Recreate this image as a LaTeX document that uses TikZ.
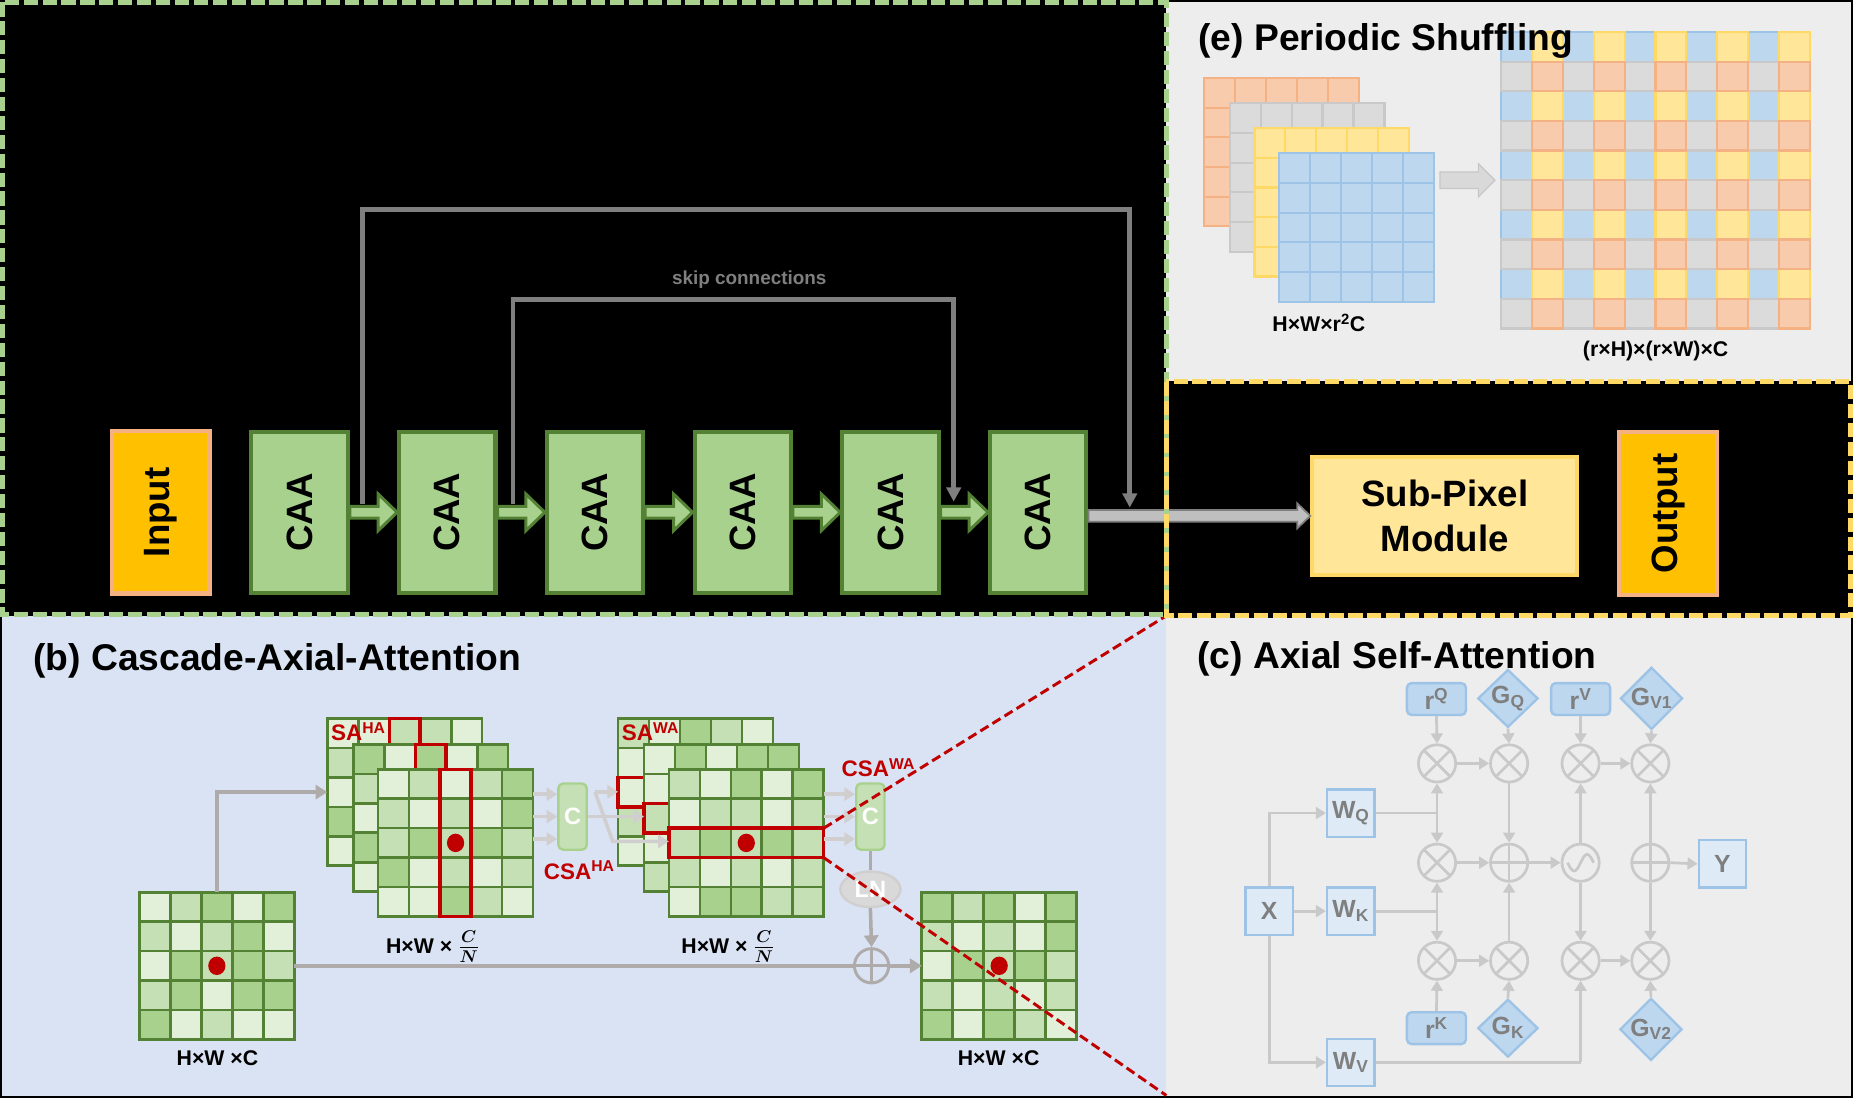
\documentclass[tikz,border=0pt]{standalone}
\usepackage{fontspec}
\setmainfont{Liberation Sans}
\usetikzlibrary{arrows.meta,positioning,calc,shapes.geometric}

\definecolor{caafill}{HTML}{A9D18E}
\definecolor{caaline}{HTML}{548235}
\definecolor{gL}{HTML}{E2F0D9}
\definecolor{gM}{HTML}{C5E0B4}
\definecolor{gD}{HTML}{A9D18E}
\definecolor{ioorange}{HTML}{FFC000}
\definecolor{iosalmon}{HTML}{F4B183}
\definecolor{spfill}{HTML}{FFE699}
\definecolor{spline}{HTML}{FFD966}
\definecolor{panelblue}{HTML}{DAE3F3}
\definecolor{panelgray}{HTML}{EDEDED}
\definecolor{darkred}{HTML}{C00000}
\definecolor{skipgray}{HTML}{7F7F7F}
\definecolor{flowgray}{HTML}{AFABAB}
\definecolor{faintgray}{HTML}{D0CECE}
\definecolor{attgray}{HTML}{C9C9C9}
\definecolor{boxblue}{HTML}{DEEBF7}
\definecolor{midblue}{HTML}{BDD7EE}
\definecolor{lineblue}{HTML}{9DC3E6}
\definecolor{shOrange}{HTML}{F8CBAD}
\definecolor{shOrangeL}{HTML}{F4B183}
\definecolor{shGray}{HTML}{DBDBDB}
\definecolor{shGrayL}{HTML}{C9C9C9}
\definecolor{shYellow}{HTML}{FFE699}
\definecolor{shYellowL}{HTML}{FFD966}
\definecolor{shBlue}{HTML}{BDD7EE}
\definecolor{shBlueL}{HTML}{9DC3E6}

% block arrow: style, from, to, shaft half height, head half height, head length
\newcommand{\fatarrow}[6]{%
  \coordinate (fastart) at (#2 |- #3);
  \coordinate (faend) at (#3);
  \draw[#1] ($(fastart)+(0,-#4)$) -- ($(faend)+(-#6,-#4)$) -- ($(faend)+(-#6,-#5)$) -- (faend)
    -- ($(faend)+(-#6,#5)$) -- ($(faend)+(-#6,#4)$) -- ($(fastart)+(0,#4)$) -- cycle;}

% 5x5 green feature map: name, x, y, rows of L/M/D
\newcommand{\greengrid}[4]{%
  \node[gridframe, anchor=north west] (#1) at (#2,#3) {};
  \foreach \row [count=\j] in {#4} {
    \foreach \cl [count=\i] in \row {
      \filldraw[gridcell, fill=g\cl] ({#2+(\i-1)*26.2},{#3+(\j-1)*24.9}) rectangle ++(26.2,24.9);
    }
  }}

% 5x5 single colour map: name, x, y, fill, draw
\newcommand{\colorgrid}[5]{%
  \node[gridframe, minimum height=125.5, anchor=north west] (#1) at (#2,#3) {};
  \foreach \i in {0,...,4} {\foreach \j in {0,...,4} {
    \filldraw[fill=#4, draw=#5, line width=1.8] ({#2+\i*26.2},{#3+\j*25.1}) rectangle ++(26.2,25.1);}}}

\newcommand{\chanfrac}{{\fontsize{22}{26}\selectfont\boldmath$\frac{C}{N}$}}

\begin{document}
\begin{tikzpicture}[x=1pt, y=-1pt,
    caabox/.style={draw=caaline, fill=caafill, line width=3.5, minimum width=81.5, minimum height=136.5, inner sep=0, font=\fontsize{31}{37}\selectfont\bfseries},
    iobox/.style={draw=iosalmon, fill=ioorange, line width=3.5, minimum width=82.5, minimum height=137.5, inner sep=0, font=\fontsize{31}{37}\selectfont\bfseries},
    subbox/.style={draw=spline, fill=spfill, line width=3.5, minimum width=224, minimum height=100, align=center, font=\fontsize{31}{38}\selectfont\bfseries},
    greenarrow/.style={draw=caaline, fill=caafill, line width=2.5},
    grayarrow/.style={draw=skipgray, fill=black!25, line width=1.5},
    lightarrow/.style={draw=black!22, fill=black!15, line width=1},
    skipline/.style={draw=skipgray, line width=4, -{Triangle[length=12pt,width=12pt]}},
    greendash/.style={draw=caafill, line width=4, dash pattern=on 12pt off 4pt},
    yellowdash/.style={draw=spline, line width=4, dash pattern=on 12pt off 4pt},
    title/.style={inner sep=0, anchor=base west, font=\fontsize{31.5}{36}\selectfont\bfseries},
    gridframe/.style={draw=none, inner sep=0, outer sep=0, minimum width=131, minimum height=124.5},
    gridcell/.style={draw=caaline, line width=2.2},
    redline/.style={draw=darkred, line width=3},
    salabel/.style={text=darkred, inner sep=0, anchor=base west, font=\fontsize{19}{22}\selectfont\bfseries},
    cbox/.style={draw=caafill, fill=gM, line width=2, rounded corners=4, minimum width=24, minimum height=56, inner sep=0, text=white, font=\fontsize{20}{24}\selectfont\bfseries},
    lnnode/.style={ellipse, draw=faintgray, fill=black!15, line width=2, minimum width=51, minimum height=30, inner sep=0, text=white, font=\fontsize{20}{24}\selectfont\bfseries},
    sumnode/.style={circle, draw=flowgray, line width=2.5, minimum size=29, inner sep=0,
      path picture={\draw[flowgray, line width=2.5] (path picture bounding box.north) -- (path picture bounding box.south) (path picture bounding box.west) -- (path picture bounding box.east);}},
    flowline/.style={draw=flowgray, line width=3},
    flowarrow/.style={flowline, -{Triangle[length=10pt,width=12pt]}},
    faintarrow/.style={draw=faintgray, line width=3, -{Triangle[length=9pt,width=11pt]}},
    dimlabel/.style={inner sep=0, font=\fontsize{18}{21}\selectfont\bfseries},
    zoomline/.style={draw=darkred, line width=2.5, dash pattern=on 8pt off 4pt},
    wbox/.style={draw=lineblue, fill=boxblue, line width=2, minimum size=40, inner sep=0, text=skipgray, font=\fontsize{21}{24}\selectfont\bfseries},
    rbox/.style={draw=lineblue, fill=midblue, line width=2, rounded corners=4, minimum width=50, minimum height=27, inner sep=0, text=skipgray, font=\fontsize{21}{24}\selectfont\bfseries},
    gdiamond/.style={diamond, draw=lineblue, fill=midblue, line width=2, minimum width=51, minimum height=49, inner sep=0, text=skipgray, font=\fontsize{21}{24}\selectfont\bfseries},
    opcircle/.style={circle, draw=attgray, line width=2.3, minimum size=31.5, inner sep=0},
    timesnode/.style={opcircle, path picture={\draw[attgray, line width=2.3] (path picture bounding box.north west) -- (path picture bounding box.south east) (path picture bounding box.north east) -- (path picture bounding box.south west);}},
    plusnode/.style={opcircle, path picture={\draw[attgray, line width=2.3] (path picture bounding box.north) -- (path picture bounding box.south) (path picture bounding box.west) -- (path picture bounding box.east);}},
    wavenode/.style={opcircle, path picture={\draw[attgray, line width=2.3, shift={(path picture bounding box.center)}] plot[domain=-11:11, samples=40, smooth] (\x, {-7*sin(\x*180/11)});}},
    attline/.style={draw=attgray, line width=2.3},
    attarrow/.style={attline, -{Triangle[length=8.5pt,width=10pt]}}
]
\useasboundingbox (0,0) rectangle (1568,929);

% panel backgrounds
\fill[panelblue] (0,521) rectangle (987,929);
\fill[panelgray] (987,521) rectangle (1568,929);
\fill[panelgray] (987,0) rectangle (1568,322);
\draw[black, line width=3] (0,0) rectangle (1568,929);
\fill[black] (0,0) rectangle (987,521);
\fill[black] (987,322) rectangle (1568,523);

% (a) backbone
\node[iobox] (input) at (136,433.5) {\rotatebox{90}{Input}};
\node[caabox, right=32pt of input] (caa1) {\rotatebox{90}{CAA}};
\node[caabox, right=40pt of caa1] (caa2) {\rotatebox{90}{CAA}};
\node[caabox, right=40pt of caa2] (caa3) {\rotatebox{90}{CAA}};
\node[caabox, right=40pt of caa3] (caa4) {\rotatebox{90}{CAA}};
\node[caabox, right=40pt of caa4] (caa5) {\rotatebox{90}{CAA}};
\node[caabox, right=40pt of caa5] (caa6) {\rotatebox{90}{CAA}};
\node[subbox] (subpix) at (1222.5,436.5) {Sub-Pixel\\Module};
\node[iobox] (output) at (1411.5,434.5) {\rotatebox{90}{Output}};

\fatarrow{greenarrow}{caa1.east}{caa2.west}{5}{15.5}{16}
\fatarrow{greenarrow}{caa2.east}{caa3.west}{5}{15.5}{16}
\fatarrow{greenarrow}{caa3.east}{caa4.west}{5}{15.5}{16}
\fatarrow{greenarrow}{caa4.east}{caa5.west}{5}{15.5}{16}
\fatarrow{greenarrow}{caa5.east}{caa6.west}{5}{15.5}{16}
\fatarrow{grayarrow}{caa6.east}{subpix.west}{5}{10.5}{11}

% skip connections
\coordinate (outerA) at ($(caa1.east)+(11,-7)$);
\coordinate (outerB) at ($(caa6.east)+(35,-4)$);
\coordinate (innerA) at ($(caa2.east)+(13,-7)$);
\coordinate (innerB) at ($(caa5.east)+(11,-9)$);
\draw[skipline] (outerA) -- ++(0,-249) -| (outerB);
\draw[skipline] (innerA) -- ++(0,-173) -| (innerB);
\node[text=skipgray, font=\fontsize{16}{19}\selectfont\bfseries] (skiptext) at (634,237) {skip connections};

% (e) Periodic Shuffling
\node[gridframe, minimum width=261.7, minimum height=251, anchor=north west] (shuffled) at (1270,27) {};
\foreach \j in {0,2,...,8} {
  \foreach \i in {0,2,...,8}
    \filldraw[fill=shBlue, draw=shBlueL, line width=1.8] ({1270+\i*26.17},{27+\j*25.1}) rectangle ++(26.17,25.1);
  \foreach \i in {1,3,...,9}
    \filldraw[fill=shYellow, draw=shYellowL, line width=1.8] ({1270+\i*26.17},{27+\j*25.1}) rectangle ++(26.17,25.1);
}
\foreach \j in {1,3,...,9} {
  \foreach \i in {0,2,...,8}
    \filldraw[fill=shGray, draw=shGrayL, line width=1.8] ({1270+\i*26.17},{27+\j*25.1}) rectangle ++(26.17,25.1);
  \foreach \i in {1,3,...,9}
    \filldraw[fill=shOrange, draw=shOrangeL, line width=1.8] ({1270+\i*26.17},{27+\j*25.1}) rectangle ++(26.17,25.1);
}
\colorgrid{stackO}{1019}{66}{shOrange}{shOrangeL}
\colorgrid{stackG}{1040.5}{87.5}{shGray}{shGrayL}
\colorgrid{stackY}{1061.5}{108.5}{shYellow}{shYellowL}
\colorgrid{stackB}{1082.5}{129.7}{shBlue}{shBlueL}
\coordinate (shufA) at ($(stackB.east)+(5,0)$);
\coordinate (shufB) at ($(shuffled.west)+(-5,0)$);
\fatarrow{lightarrow}{shufA}{shufB}{7}{14}{14}
\node[title] (etitle) at (1014,43) {(e) Periodic Shuffling};
\node[dimlabel] (stacklabel) at (1116,273) {H×W×r\textsuperscript{2}C};
\node[dimlabel] (shuflabel) at (1401,297) {(r×H)×(r×W)×C};

% (b) Cascade-Axial-Attention
\node[title] (btitle) at (28,567) {(b) Cascade-Axial-Attention};

\greengrid{ingrid}{118}{755}{{L,M,D,L,D},{M,L,M,D,L},{L,D,M,D,M},{M,D,L,D,D},{D,L,M,L,L}}
\fill[darkred] (ingrid.center) ellipse [x radius=7.3, y radius=7.8];

\greengrid{haback}{277}{608}{{L,L,M,M,L},{M,L,L,M,L},{L,M,L,L,M},{D,L,M,L,L},{L,M,L,D,L}}
\draw[redline] ($(haback.north west)+(52.4,0)$) rectangle ++(26.2,124.5);
\node[salabel] (sahalabel) at (280,627) {SA\textsuperscript{HA}};
\greengrid{hamid}{299}{630}{{D,L,D,L,D},{M,L,L,M,L},{L,M,L,L,M},{D,L,M,L,L},{L,M,L,D,L}}
\draw[redline] ($(hamid.north west)+(52.4,0)$) rectangle ++(26.2,124.5);
\greengrid{hafront}{320}{651}{{L,M,L,M,D},{M,L,M,L,D},{M,D,M,D,M},{D,L,M,L,M},{L,L,D,M,L}}
\draw[redline] ($(hafront.north west)+(52.4,0)$) rectangle ++(26.2,124.5);
\fill[darkred] (hafront.center) ellipse [x radius=7.3, y radius=7.8];

\node[cbox] (cha) at (484.5,691) {C};
\foreach \dy in {-19,0,19}
  \draw[faintarrow] ($(hafront.east |- cha.west)+(0,\dy)$) -- ($(cha.west)+(0,\dy)$);
\node[salabel] (csahalabel) at (460,744) {CSA\textsuperscript{HA}};

\greengrid{waback}{523}{608}{{M,L,D,M,L},{L,M,L,L,M},{L,L,M,L,L},{M,L,L,M,L},{L,M,L,L,M}}
\draw[redline] ($(waback.north west)+(0,49.8)$) rectangle ++(131,24.9);
\node[salabel] (sawalabel) at (526,627) {SA\textsuperscript{WA}};
\greengrid{wamid}{545}{630}{{L,D,L,D,D},{L,M,L,L,M},{M,L,M,L,L},{L,M,L,M,L},{M,L,L,M,L}}
\draw[redline] ($(wamid.north west)+(0,49.8)$) rectangle ++(131,24.9);
\greengrid{wafront}{566}{651}{{M,L,D,L,D},{L,M,M,L,M},{M,D,M,D,M},{M,L,M,L,M},{L,D,D,M,M}}
\draw[redline] ($(wafront.north west)+(0,49.8)$) rectangle ++(131,24.9);
\fill[darkred] (wafront.center) ellipse [x radius=7.3, y radius=7.8];

% crossing links between the two stages
\coordinate (crossA) at ($(cha.east)+(6,-21)$);
\coordinate (crossB) at ($(crossA)+(15,42)$);
\draw[faintarrow] (cha.east) -- (wamid.west |- cha.east);
\draw[faintarrow] (crossA) -- (waback.west |- crossA);
\draw[faintarrow] (crossA) -- (crossB) -- (wafront.west |- crossB);

\node[cbox] (cwa) at (736.5,691) {C};
\foreach \dy in {-19,0,19}
  \draw[faintarrow] ($(wafront.east |- cwa.west)+(0,\dy)$) -- ($(cwa.west)+(0,\dy)$);
\node[salabel] (csawalabel) at (712,657) {CSA\textsuperscript{WA}};

\node[lnnode] (ln) at (736.5,752.5) {LN};
\node[sumnode] (sum) at (737.5,817.25) {};
\greengrid{outgrid}{780}{755}{{D,M,D,L,D},{M,L,M,L,D},{L,D,M,D,M},{M,L,M,L,M},{D,L,D,M,L}}
\fill[darkred] (outgrid.center) ellipse [x radius=7.3, y radius=7.8];

\draw[flowarrow] (ingrid.north) |- (haback.west);
\draw[flowline] (ingrid.east) -- (sum.west);
\draw[flowline] (cwa.south) -- (ln.north);
\draw[flowarrow] (ln.south) -- (sum.north);
\draw[flowarrow] (sum.east) -- (outgrid.west);

\node[dimlabel] (inlabel) at (184,895) {H×W ×C};
\node[dimlabel] (outlabel) at (845,895) {H×W ×C};
\node[dimlabel] (halabel) at (366,801) {H×W × \chanfrac};
\node[dimlabel] (walabel) at (616,801) {H×W × \chanfrac};

% zoom lines towards (c)
\coordinate (zoomA) at ($(wafront.north east)+(0,49.8)$);
\coordinate (zoomB) at ($(wafront.north east)+(0,74.7)$);
\coordinate (cornerTop) at (987,521);
\coordinate (cornerBot) at (987,927);
\draw[zoomline] (zoomA) -- (cornerTop);
\draw[zoomline] (zoomB) -- (cornerBot);

% (c) Axial Self-Attention
\node[title] (ctitle) at (1013,566) {(c) Axial Self-Attention};
\node[wbox] (X) at (1074,771) {X};
\node[wbox] (WQ) at (1143,688) {W\textsubscript{Q}};
\node[wbox] (WK) at (1143,771) {W\textsubscript{K}};
\node[wbox] (WV) at (1143,899) {W\textsubscript{V}};
\node[wbox] (Y) at (1457.5,731) {Y};
\node[rbox] (rQ) at (1215.5,591.5) {r\textsuperscript{Q}};
\node[rbox] (rV) at (1337.5,591.5) {r\textsuperscript{V}};
\node[rbox] (rK) at (1215.5,870) {r\textsuperscript{K}};
\node[gdiamond] (GQ) at (1276,591) {G\textsubscript{Q}};
\node[gdiamond] (GV1) at (1397.5,591) {G\textsubscript{V1}};
\node[gdiamond] (GK) at (1276,870) {G\textsubscript{K}};
\node[gdiamond] (GV2) at (1397,871) {G\textsubscript{V2}};

\node[timesnode] (t11) at (1216,646) {};
\node[timesnode] (t12) at (1277,646) {};
\node[timesnode] (t13) at (1337.5,646) {};
\node[timesnode] (t14) at (1396.5,646) {};
\node[timesnode] (t21) at (1216,730) {};
\node[plusnode] (p22) at (1277,730) {};
\node[wavenode] (w23) at (1337.5,730) {};
\node[plusnode] (p24) at (1396.5,730) {};
\node[timesnode] (t31) at (1216,813) {};
\node[timesnode] (t32) at (1277,813) {};
\node[timesnode] (t33) at (1337.5,813) {};
\node[timesnode] (t34) at (1396.5,813) {};

\draw[attarrow] (X.north) |- (WQ.west);
\draw[attarrow] (X.east) -- (WK.west);
\draw[attarrow] (X.south) |- (WV.west);

\coordinate (jq) at (t11 |- WQ.east);
\coordinate (jk) at (t21 |- WK.east);
\coordinate (jv) at (t33 |- WV.east);
\draw[attline] (WQ.east) -- (jq);
\draw[attarrow] (jq) -- (t11.south);
\draw[attarrow] (jq) -- (t21.north);
\draw[attline] (WK.east) -- (jk);
\draw[attarrow] (jk) -- (t21.south);
\draw[attarrow] (jk) -- (t31.north);
\draw[attline] (WV.east) -- (jv);
\draw[attarrow] (jv) -- (t33.south);

\draw[attarrow] (rQ.south) -- (t11.north);
\draw[attarrow] (GQ.south) -- (t12.north);
\draw[attarrow] (rV.south) -- (t13.north);
\draw[attarrow] (GV1.south) -- (t14.north);
\draw[attarrow] (rK.north) -- (t31.south);
\draw[attarrow] (GK.north) -- (t32.south);
\draw[attarrow] (GV2.north) -- (t34.south);

\draw[attarrow] (t11.east) -- (t12.west);
\draw[attarrow] (t13.east) -- (t14.west);
\draw[attarrow] (t31.east) -- (t32.west);
\draw[attarrow] (t33.east) -- (t34.west);
\draw[attarrow] (t21.east) -- (p22.west);
\draw[attarrow] (p22.east) -- (w23.west);
\draw[attarrow] (t12.south) -- (p22.north);
\draw[attarrow] (t32.north) -- (p22.south);
\draw[attarrow] (w23.north) -- (t13.south);
\draw[attarrow] (w23.south) -- (t33.north);
\draw[attarrow] (p24.north) -- (t14.south);
\draw[attarrow] (p24.south) -- (t34.north);
\draw[attarrow] (p24.east) -- (Y.west);

% panel borders
\draw[greendash] (2,2) rectangle (987,520);
\draw[yellowdash] (987,323) rectangle (1566,521);
\end{tikzpicture}
\end{document}
